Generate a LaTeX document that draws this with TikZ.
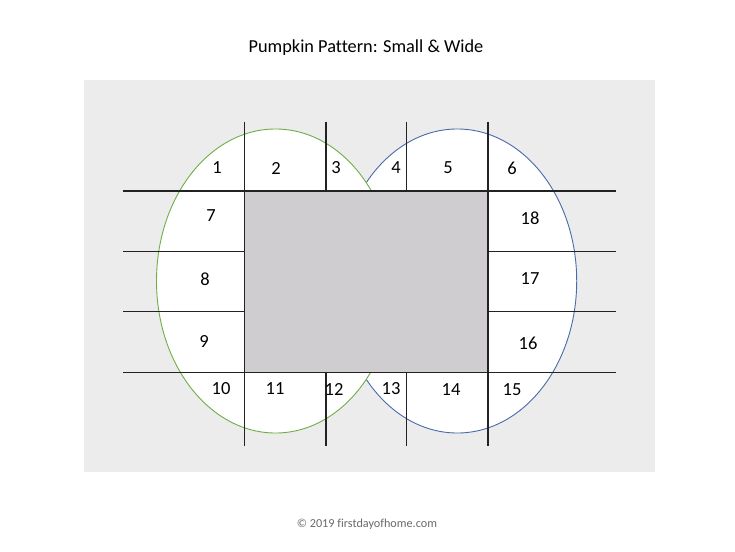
\documentclass[tikz,border=0pt]{standalone}
\usepackage{fontspec}
\setmainfont{Carlito}[Ligatures={NoCommon}]
\definecolor{bggray}{HTML}{ECECEC}
\definecolor{midgray}{HTML}{D0CDD0}
\definecolor{pgreen}{HTML}{70AD47}
\definecolor{pblue}{HTML}{4A6AAA}
\definecolor{linecol}{HTML}{222222}
\definecolor{copycol}{HTML}{6A6A6A}
\tikzset{
  cut/.style={draw=linecol, line width=1.05pt},
  num/.style={font=\fontsize{18.5}{18.5}\selectfont, inner sep=0pt, anchor=center},
  outline/.style={fill=white, line width=0.9pt}
}
\begin{document}
\begin{tikzpicture}[x=1pt,y=-1pt]
\useasboundingbox (0,0) rectangle (735,551);
\fill[white] (0,0) rectangle (735,551);
\fill[bggray] (83.5,79.5) rectangle (655,471.5);
% lobes
\draw[outline, draw=pblue] (457.3,281) ellipse [x radius=119.4, y radius=152];
\draw[outline, draw=pgreen] (275.5,281) ellipse [x radius=119, y radius=152];
% centre panel
\fill[midgray] (244.5,191) rectangle (488,372.3);
% cutting lines
\draw[cut] (123.3,191) -- (616,191);
\draw[cut] (123.3,372.3) -- (616,372.3);
\draw[cut] (123.3,251.7) -- (245,251.7);
\draw[cut] (123.3,311.7) -- (245,311.7);
\draw[cut] (487,251.7) -- (616,251.7);
\draw[cut] (487,311.7) -- (616,311.7);
\draw[cut] (244.5,121.7) -- (244.5,446);
\draw[cut] (488,121.7) -- (488,446);
\draw[cut] (326,121.7) -- (326,191);
\draw[cut] (326,372.3) -- (326,446);
\draw[cut] (406.7,121.7) -- (406.7,191);
\draw[cut] (406.7,372.3) -- (406.7,446);
% labels
\node[num] (n1) at (217,168) {1};
\node[num] (n2) at (276,168) {2};
\node[num] (n3) at (336,168) {3};
\node[num] (n4) at (396,168) {4};
\node[num] (n5) at (448,168) {5};
\node[num] (n6) at (512,168) {6};
\node[num] (n7) at (211,216) {7};
\node[num] (n8) at (205,279) {8};
\node[num] (n9) at (204,341) {9};
\node[num] (n10) at (221,389) {10};
\node[num] (n11) at (275,389) {11};
\node[num] (n12) at (334,389) {12};
\node[num] (n13) at (391,389) {13};
\node[num] (n14) at (451,390) {14};
\node[num] (n15) at (512,390) {15};
\node[num] (n16) at (528,343) {16};
\node[num] (n17) at (530,279) {17};
\node[num] (n18) at (530,218) {18};
% title and credit
\node[font=\fontsize{18.3}{18.3}\selectfont, inner sep=0pt] (title) at (366,48) {Pumpkin Pattern: Small \& Wide};
\node[font=\fontsize{12.2}{12.2}\selectfont, text=copycol, inner sep=0pt] (credit) at (367,524) {© 2019 firstdayofhome.com};
\end{tikzpicture}
\end{document}
